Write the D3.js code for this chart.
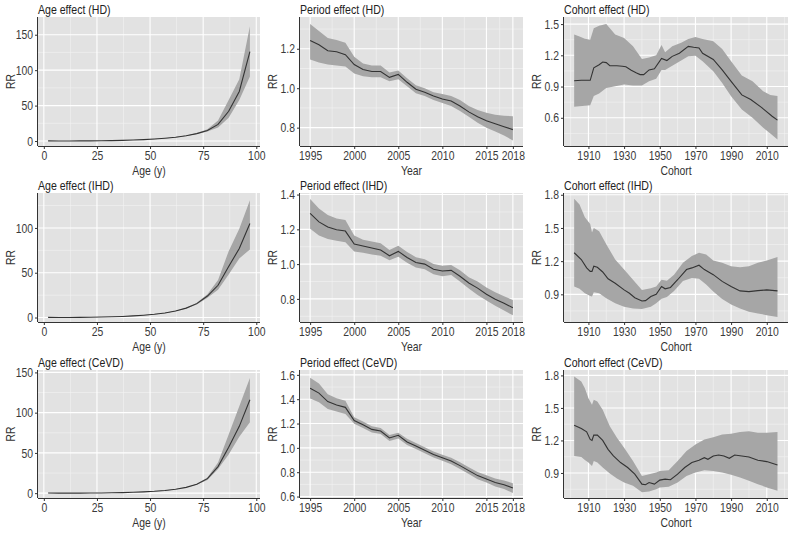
<!DOCTYPE html>
<html><head><meta charset="utf-8">
<script src="https://cdn.jsdelivr.net/npm/d3@7/dist/d3.min.js"></script>
<style>
body{margin:0;background:#fff;}
svg text{font-family:"Liberation Sans",Arial,sans-serif;}
</style></head>
<body><svg id="c" width="793" height="533"></svg>
<script>
// ---------- DATA ----------
const ages = [2,7,12,17,22,27,32,37,42,47,52,57,62,67,72,77,82,87,92,97];
const ageHD    = [0.2,0.1,0.1,0.2,0.3,0.4,0.6,0.9,1.4,2.0,2.8,3.9,5.3,7.5,10.5,15,23.5,42,70,126];
const ageHDLo  = [0.2,0.1,0.1,0.2,0.3,0.4,0.6,0.9,1.3,1.9,2.7,3.7,5.0,7.1,9.8,13.5,19,33,58,91];
const ageHDHi  = [0.2,0.1,0.1,0.2,0.3,0.4,0.6,0.9,1.5,2.1,2.9,4.1,5.6,7.9,11.2,16.5,29,58,87,162];
const ageIHD   = [0.2,0.1,0.1,0.2,0.3,0.5,0.8,1.2,1.8,2.6,3.6,5.0,7.2,10.5,15.5,24,36,57,77,105];
const ageIHDLo = [0.2,0.1,0.1,0.2,0.3,0.5,0.8,1.1,1.7,2.5,3.4,4.8,6.9,10,14.6,22,31,48,66,76];
const ageIHDHi = [0.2,0.1,0.1,0.2,0.3,0.5,0.8,1.3,1.9,2.7,3.8,5.2,7.5,11,16.5,26,42,74,99,131];
const ageCeVD   = [0.2,0.1,0.1,0.1,0.2,0.3,0.5,0.7,1.1,1.6,2.3,3.3,4.8,7.2,11,18,33,57,83,116];
const ageCeVDLo = [0.2,0.1,0.1,0.1,0.2,0.3,0.5,0.7,1.0,1.5,2.2,3.1,4.6,6.9,10.4,16.5,30,48,70,88];
const ageCeVDHi = [0.2,0.1,0.1,0.1,0.2,0.3,0.5,0.7,1.2,1.7,2.4,3.5,5.0,7.5,11.6,19.5,38,73,108,143];

const years = [1995,1996,1997,1998,1999,2000,2001,2002,2003,2004,2005,2006,2007,2008,2009,2010,2011,2012,2013,2014,2015,2016,2017,2018];
const perHD   = [1.242,1.22,1.19,1.185,1.17,1.12,1.095,1.085,1.085,1.055,1.07,1.03,0.995,0.98,0.96,0.945,0.935,0.91,0.88,0.855,0.835,0.82,0.805,0.79];
const perHDLo = [1.145,1.13,1.12,1.115,1.11,1.075,1.06,1.055,1.055,1.035,1.045,1.01,0.975,0.96,0.94,0.925,0.91,0.885,0.855,0.825,0.80,0.78,0.76,0.735];
const perHDHi = [1.325,1.29,1.255,1.245,1.23,1.16,1.125,1.115,1.115,1.08,1.09,1.05,1.015,1.0,0.98,0.97,0.96,0.94,0.91,0.89,0.875,0.865,0.86,0.858];
const perIHD   = [1.292,1.243,1.214,1.198,1.19,1.116,1.104,1.093,1.081,1.048,1.073,1.038,1.009,1.0,0.97,0.96,0.964,0.93,0.891,0.862,0.827,0.798,0.775,0.749];
const perIHDLo = [1.204,1.165,1.145,1.135,1.126,1.073,1.065,1.055,1.048,1.022,1.042,1.008,0.98,0.97,0.942,0.93,0.937,0.90,0.86,0.823,0.79,0.76,0.733,0.706];
const perIHDHi = [1.374,1.32,1.282,1.262,1.253,1.165,1.14,1.13,1.12,1.081,1.106,1.07,1.04,1.028,1.0,0.99,0.995,0.965,0.925,0.90,0.866,0.838,0.815,0.794];
const perCeVD   = [1.49,1.45,1.38,1.352,1.333,1.225,1.19,1.152,1.138,1.081,1.103,1.049,1.016,0.981,0.946,0.919,0.892,0.854,0.813,0.772,0.745,0.716,0.697,0.67];
const perCeVDLo = [1.406,1.375,1.32,1.298,1.279,1.198,1.163,1.127,1.113,1.056,1.078,1.024,0.991,0.956,0.921,0.894,0.866,0.827,0.785,0.743,0.715,0.683,0.662,0.629];
const perCeVDHi = [1.577,1.53,1.44,1.408,1.388,1.252,1.217,1.178,1.163,1.106,1.125,1.074,1.041,1.006,0.971,0.944,0.918,0.881,0.841,0.801,0.775,0.748,0.732,0.71];

const cohHDYear = [1902,1906,1911,1913,1916,1918,1920,1922,1926,1929,1931,1934,1937,1939,1941,1944,1947,1951,1954,1957,1961,1966,1969,1972,1974,1980,1985,1990,1996,2001,2007,2013,2016];
const cohHD     = [0.955,0.96,0.96,1.08,1.11,1.136,1.13,1.10,1.10,1.095,1.09,1.056,1.03,1.015,1.015,1.06,1.07,1.17,1.15,1.19,1.22,1.286,1.277,1.27,1.22,1.16,1.06,0.95,0.82,0.775,0.70,0.615,0.578];
const cohHDBandYear = [1902,1905,1908,1911,1913,1916,1920,1925,1930,1935,1940,1944,1948,1951,1953,1957,1962,1966,1970,1974,1980,1985,1990,1996,2002,2008,2012,2016];
const cohHDLo = [0.705,0.71,0.715,0.72,0.81,0.833,0.887,0.903,0.92,0.91,0.91,0.95,0.975,1.06,1.06,1.10,1.15,1.19,1.197,1.143,1.047,0.935,0.807,0.68,0.60,0.504,0.45,0.392];
const cohHDHi = [1.40,1.38,1.36,1.35,1.46,1.484,1.50,1.40,1.366,1.286,1.165,1.18,1.20,1.30,1.23,1.286,1.32,1.356,1.376,1.356,1.334,1.26,1.143,1.005,0.95,0.855,0.82,0.81];

const cohIHDYear = [1902,1906,1909,1911,1912,1913,1915,1918,1921,1925,1930,1933,1936,1940,1942,1945,1948,1951,1953,1956,1960,1965,1968,1972,1975,1980,1985,1990,1995,2000,2005,2010,2016];
const cohIHD     = [1.276,1.215,1.139,1.108,1.108,1.154,1.145,1.102,1.041,1.0,0.94,0.91,0.87,0.84,0.843,0.88,0.90,0.971,0.95,0.962,1.032,1.124,1.139,1.163,1.124,1.078,1.017,0.971,0.931,0.925,0.934,0.94,0.931];
const cohIHDBandYear = [1902,1905,1908,1911,1912,1913,1916,1920,1925,1930,1935,1940,1945,1948,1951,1954,1958,1963,1968,1972,1976,1980,1985,1990,1995,2000,2005,2010,2016];
const cohIHDLo = [0.971,0.95,0.91,0.885,0.88,0.919,0.91,0.864,0.819,0.788,0.773,0.767,0.788,0.82,0.86,0.875,0.93,1.02,1.047,1.04,0.99,0.925,0.858,0.809,0.773,0.742,0.727,0.712,0.696];
const cohIHDHi = [1.765,1.713,1.597,1.536,1.459,1.499,1.47,1.353,1.215,1.124,1.032,0.94,0.956,0.971,1.032,1.023,1.078,1.185,1.246,1.276,1.261,1.206,1.185,1.154,1.145,1.154,1.185,1.206,1.237];

const cohCeVDYear = [1902,1906,1909,1911,1912,1913,1915,1918,1921,1924,1928,1932,1936,1940,1942,1944,1947,1950,1953,1956,1960,1964,1968,1972,1975,1977,1980,1983,1986,1989,1992,1996,2000,2005,2010,2016];
const cohCeVD     = [1.34,1.31,1.279,1.209,1.2,1.249,1.249,1.2,1.118,1.057,0.996,0.95,0.889,0.797,0.791,0.812,0.797,0.834,0.843,0.837,0.889,0.95,0.996,1.017,1.041,1.026,1.057,1.066,1.057,1.035,1.066,1.057,1.047,1.017,1.005,0.974];
const cohCeVDBandYear = [1902,1906,1908,1910,1912,1913,1915,1918,1922,1926,1930,1935,1940,1944,1948,1950,1955,1960,1965,1970,1975,1980,1985,1990,1995,2000,2005,2010,2016];
const cohCeVDLo = [1.057,1.047,1.02,0.996,0.965,1.011,0.996,0.95,0.895,0.85,0.812,0.782,0.721,0.73,0.75,0.767,0.773,0.812,0.873,0.904,0.925,0.919,0.904,0.883,0.858,0.828,0.797,0.767,0.736];
const cohCeVDHi = [1.789,1.743,1.682,1.59,1.53,1.575,1.56,1.484,1.331,1.224,1.133,1.011,0.873,0.889,0.904,0.919,0.925,1.011,1.102,1.163,1.209,1.23,1.255,1.261,1.279,1.285,1.27,1.27,1.279];

// tick labels / breaks
const ageXTicks = [0,25,50,75,100];
const ageXMinor = [12.5,37.5,62.5,87.5];
const ageYTicksHD = [0,50,100,150];
const ageYTicksIHD = [0,50,100];
const ageYTicksCeVD = [0,50,100,150];
const ageYMinor = [25,75,125];
const perXTicks = [1995,2000,2005,2010,2015,2018];
const perXMinor = [1997.5,2002.5,2007.5,2012.5,2016.5];
const perYTicksHD = [0.8,1.0,1.2];
const perYTicksIHD = [0.8,1.0,1.2,1.4];
const perYTicksCeVD = [0.6,0.8,1.0,1.2,1.4,1.6];
const perYMinor = [0.7,0.9,1.1,1.3,1.5];
const cohXTicks = [1910,1930,1950,1970,1990,2010];
const cohXMinor = [1900,1920,1940,1960,1980,2000,2020];
const cohYTicksHD = [0.6,0.9,1.2,1.5];
const cohYMinorHD = [0.45,0.75,1.05,1.35];
const cohYTicks = [0.9,1.2,1.5,1.8];
const cohYMinor = [0.75,1.05,1.35,1.65];

// ---------- LAYOUT ----------
const svg = d3.select("#c");
const cols = [[38,260],[300,523],[564,788]];
const rows = [[17,146],[193,322],[370,498]];
const fInt = d3.format("d"), f1 = d3.format(".1f");

const panels = [
 {r:0,c:0,title:"Age effect (HD)",xl:"Age (y)",xd:[-2.75,101.75],yd:[-7,175],xt:ageXTicks,xm:ageXMinor,yt:ageYTicksHD,ym:ageYMinor,yf:fInt,
  lx:ages,ly:ageHD,bx:ages,lo:ageHDLo,hi:ageHDHi},
 {r:0,c:1,title:"Period effect (HD)",xl:"Year",xd:[1993.85,2019.15],yd:[0.707,1.361],xt:perXTicks,xm:perXMinor,yt:perYTicksHD,ym:perYMinor,yf:f1,
  lx:years,ly:perHD,bx:years,lo:perHDLo,hi:perHDHi},
 {r:0,c:2,title:"Cohort effect (HD)",xl:"Cohort",xd:[1896.3,2021.9],yd:[0.329,1.568],xt:cohXTicks,xm:cohXMinor,yt:cohYTicksHD,ym:cohYMinorHD,yf:f1,
  lx:cohHDYear,ly:cohHD,bx:cohHDBandYear,lo:cohHDLo,hi:cohHDHi},
 {r:1,c:0,title:"Age effect (IHD)",xl:"Age (y)",xd:[-2.75,101.75],yd:[-5,139],xt:ageXTicks,xm:ageXMinor,yt:ageYTicksIHD,ym:ageYMinor,yf:fInt,
  lx:ages,ly:ageIHD,bx:ages,lo:ageIHDLo,hi:ageIHDHi},
 {r:1,c:1,title:"Period effect (IHD)",xl:"Year",xd:[1993.85,2019.15],yd:[0.667,1.409],xt:perXTicks,xm:perXMinor,yt:perYTicksIHD,ym:perYMinor,yf:f1,
  lx:years,ly:perIHD,bx:years,lo:perIHDLo,hi:perIHDHi},
 {r:1,c:2,title:"Cohort effect (IHD)",xl:"Cohort",xd:[1896.3,2021.9],yd:[0.65,1.816],xt:cohXTicks,xm:cohXMinor,yt:cohYTicks,ym:cohYMinor,yf:f1,
  lx:cohIHDYear,ly:cohIHD,bx:cohIHDBandYear,lo:cohIHDLo,hi:cohIHDHi},
 {r:2,c:0,title:"Age effect (CeVD)",xl:"Age (y)",xd:[-2.75,101.75],yd:[-6,153],xt:ageXTicks,xm:ageXMinor,yt:ageYTicksCeVD,ym:ageYMinor,yf:fInt,
  lx:ages,ly:ageCeVD,bx:ages,lo:ageCeVDLo,hi:ageCeVDHi},
 {r:2,c:1,title:"Period effect (CeVD)",xl:"Year",xd:[1993.85,2019.15],yd:[0.588,1.64],xt:perXTicks,xm:perXMinor,yt:perYTicksCeVD,ym:perYMinor,yf:f1,
  lx:years,ly:perCeVD,bx:years,lo:perCeVDLo,hi:perCeVDHi},
 {r:2,c:2,title:"Cohort effect (CeVD)",xl:"Cohort",xd:[1896.3,2021.9],yd:[0.669,1.85],xt:cohXTicks,xm:cohXMinor,yt:cohYTicks,ym:cohYMinor,yf:f1,
  lx:cohCeVDYear,ly:cohCeVD,bx:cohCeVDBandYear,lo:cohCeVDLo,hi:cohCeVDHi}
];

function condense(sel, f){
  sel.each(function(){
    const L=this.getComputedTextLength();
    this.setAttribute("textLength", (L*f).toFixed(2));
    this.setAttribute("lengthAdjust","spacingAndGlyphs");
  });
}

panels.forEach(p=>{
  const [x0,x1]=cols[p.c], [y0,y1]=rows[p.r];
  const x=d3.scaleLinear().domain(p.xd).range([x0,x1]);
  const y=d3.scaleLinear().domain(p.yd).range([y1,y0]);
  const g=svg.append("g");
  g.append("rect").attr("x",x0).attr("y",y0).attr("width",x1-x0).attr("height",y1-y0).attr("fill","#e2e2e2");
  const inX=v=>v>=p.xd[0]&&v<=p.xd[1], inY=v=>v>=p.yd[0]&&v<=p.yd[1];
  g.selectAll(null).data(p.xm.filter(inX)).join("line").attr("x1",d=>x(d)).attr("x2",d=>x(d)).attr("y1",y0).attr("y2",y1).attr("stroke","#f3f3f3").attr("stroke-width",0.6);
  g.selectAll(null).data(p.ym.filter(inY)).join("line").attr("y1",d=>y(d)).attr("y2",d=>y(d)).attr("x1",x0).attr("x2",x1).attr("stroke","#f3f3f3").attr("stroke-width",0.6);
  g.selectAll(null).data(p.xt.filter(inX)).join("line").attr("x1",d=>x(d)).attr("x2",d=>x(d)).attr("y1",y0).attr("y2",y1).attr("stroke","#fff").attr("stroke-width",1.1);
  g.selectAll(null).data(p.yt.filter(inY)).join("line").attr("y1",d=>y(d)).attr("y2",d=>y(d)).attr("x1",x0).attr("x2",x1).attr("stroke","#fff").attr("stroke-width",1.1);
  const band=p.bx.map((v,i)=>({x:v,lo:p.lo[i],hi:p.hi[i]}));
  g.append("path").datum(band).attr("d",d3.area().x(d=>x(d.x)).y0(d=>y(d.lo)).y1(d=>y(d.hi))).attr("fill","#a6a6a6");
  const ln=p.lx.map((v,i)=>({x:v,y:p.ly[i]}));
  g.append("path").datum(ln).attr("d",d3.line().x(d=>x(d.x)).y(d=>y(d.y))).attr("fill","none").attr("stroke","#333").attr("stroke-width",1.1);
  const ax=g.append("g").attr("transform",`translate(0,${y1})`).call(d3.axisBottom(x).tickValues(p.xt).tickFormat(fInt).tickSize(3).tickPadding(3));
  const ay=g.append("g").attr("transform",`translate(${x0},0)`).call(d3.axisLeft(y).tickValues(p.yt).tickFormat(p.yf).tickSize(3).tickPadding(2));
  ax.select(".domain").attr("d",`M${x0},0.5H${x1}`);
  ay.select(".domain").attr("d",`M-0.5,${y0}V${y1}`);
  [ax,ay].forEach(a=>{
    a.select(".domain").attr("stroke","#333").attr("stroke-width",1);
    a.selectAll(".tick line").attr("stroke","#333");
    a.selectAll(".tick text").attr("fill","#3a3a3a").style("font-size","13px");
    condense(a.selectAll(".tick text"),0.8);
  });
  ax.selectAll(".tick text").attr("y",5).attr("dy","0.71em");
  const t=g.append("text").attr("x",x0).attr("y",y0-3).attr("fill","#222").style("font-size","12px").text(p.title);
  condense(t,0.88);
  const xl=g.append("text").attr("x",(x0+x1)/2).attr("y",y1+29).attr("text-anchor","middle").attr("fill","#333").style("font-size","13px").text(p.xl);
  condense(xl,0.8);
  const yl=g.append("text").attr("transform",`translate(${x0-28},${(y0+y1)/2}) rotate(-90)`).attr("text-anchor","middle").attr("dy","0.35em").attr("fill","#333").style("font-size","13px").text("RR");
  condense(yl,0.8);
});
</script></body></html>
